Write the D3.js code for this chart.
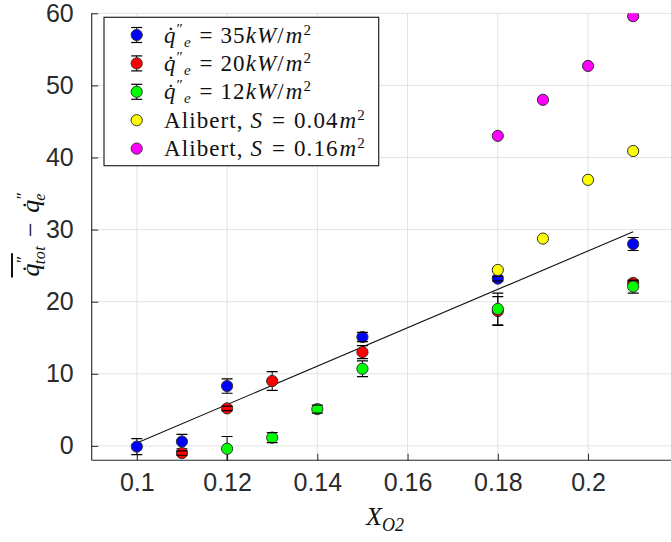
<!DOCTYPE html>
<html><head><meta charset="utf-8">
<script src="https://cdn.jsdelivr.net/npm/d3@7"></script>
<style>
html,body{margin:0;padding:0;background:#fff;}
svg{display:block;}
text{white-space:pre;}
</style></head>
<body>
<svg id="chart" width="671" height="542"></svg>
<script>
// ---- data ----
const xTicks = [0.1, 0.12, 0.14, 0.16, 0.18, 0.2];
const xTickLabels = ["0.1", "0.12", "0.14", "0.16", "0.18", "0.2"];
const yTicks = [0, 10, 20, 30, 40, 50, 60];
const yTickLabels = ["0", "10", "20", "30", "40", "50", "60"];

const x35 = [0.10, 0.11, 0.12, 0.15, 0.18, 0.21];
const y35 = [-0.1, 0.6, 8.3, 15.1, 23.2, 28.0];
const e35 = [1.1, 1.0, 1.0, 0.65, 0.3, 0.9];

const x20 = [0.11, 0.12, 0.13, 0.15, 0.18, 0.21];
const y20 = [-1.0, 5.2, 9.0, 13.0, 18.7, 22.6];
const e20 = [0.3, 0.32, 1.3, 0.9, 2.0, 0.3];

const x12 = [0.12, 0.13, 0.14, 0.15, 0.18, 0.21];
const y12 = [-0.4, 1.15, 5.1, 10.7, 19.0, 22.1];
const e12 = [1.7, 0.7, 0.55, 1.1, 2.2, 0.9];

const xA04 = [0.18, 0.19, 0.20, 0.21];
const yA04 = [24.4, 28.75, 36.9, 40.9];

const xA16 = [0.18, 0.19, 0.20, 0.21];
const yA16 = [43.0, 48.0, 52.7, 59.6];

const fitX = [0.10, 0.21];
const fitY = [0.4, 29.7];

const legendValues = ["35", "20", "12"];
const legendAreas = ["0.04", "0.16"];

// ---- layout ----
const svg = d3.select("#chart");
const L = 91.7, R = 678.3, T = 13.3, B = 460.3;
const axisCol = "#262626";
const x = d3.scaleLinear().domain([0.09, 0.22]).range([L, R]);
const y = d3.scaleLinear().domain([-2, 60]).range([B, T]);

svg.append("defs").append("clipPath").attr("id", "clip")
  .append("rect").attr("x", L).attr("y", T).attr("width", R - L).attr("height", B - T);

// grid
const grid = svg.append("g");
grid.selectAll(".gx").data(xTicks.concat([0.22])).join("line")
  .attr("x1", d => x(d)).attr("x2", d => x(d)).attr("y1", T).attr("y2", B)
  .attr("stroke", "#e3e3e3").attr("stroke-width", 1);
grid.selectAll(".gy").data(yTicks).join("line")
  .attr("y1", d => y(d)).attr("y2", d => y(d)).attr("x1", L).attr("x2", R)
  .attr("stroke", "#e3e3e3").attr("stroke-width", 1);

// axes
const xAxis = d3.axisBottom(x).tickValues(xTicks).tickFormat((d, i) => xTickLabels[i])
  .tickSizeInner(-6.5).tickSizeOuter(0).tickPadding(13);
const yAxis = d3.axisLeft(y).tickValues(yTicks).tickFormat((d, i) => yTickLabels[i])
  .tickSizeInner(-6.5).tickSizeOuter(0).tickPadding(18);

const gx = svg.append("g").attr("transform", `translate(0,${B})`).call(xAxis);
const gy = svg.append("g").attr("transform", `translate(${L},0)`).call(yAxis);
[gx, gy].forEach(g => {
  g.select(".domain").attr("stroke", axisCol).attr("stroke-width", 1.1);
  g.selectAll(".tick line").attr("stroke", axisCol).attr("stroke-width", 1);
  g.selectAll(".tick text").attr("fill", "#2b2b2b")
    .attr("font-family", "'Liberation Sans', Arial, sans-serif").attr("font-size", 25);
});
gx.select(".domain").attr("d", `M${L},0H${R}`);
gy.select(".domain").attr("d", `M0,${B}V${T}`);
gx.selectAll(".tick text").attr("dy", "0.71em");

// plot content
const plot = svg.append("g").attr("clip-path", "url(#clip)");
const line = d3.line().x(d => x(d[0])).y(d => y(d[1]));
plot.append("path").datum(fitX.map((v, i) => [v, fitY[i]]))
  .attr("d", line).attr("fill", "none").attr("stroke", "#111").attr("stroke-width", 1.1);

const r = 5.6, capW = 5.5;
function errSeries(xs, ys, es, color) {
  const data = xs.map((v, i) => ({x: v, y: ys[i], e: es[i]}));
  const g = plot.append("g");
  g.selectAll(".v").data(data).join("line")
    .attr("x1", d => x(d.x)).attr("x2", d => x(d.x))
    .attr("y1", d => y(d.y - d.e)).attr("y2", d => y(d.y + d.e))
    .attr("stroke", "#000").attr("stroke-width", 1);
  g.selectAll(".m").data(data).join("circle")
    .attr("cx", d => x(d.x)).attr("cy", d => y(d.y)).attr("r", r)
    .attr("fill", color).attr("stroke", "#333").attr("stroke-width", 1);
  [-1, 1].forEach(s => {
    g.selectAll(".c" + s).data(data).join("line")
      .attr("x1", d => x(d.x) - capW).attr("x2", d => x(d.x) + capW)
      .attr("y1", d => y(d.y + s * d.e)).attr("y2", d => y(d.y + s * d.e))
      .attr("stroke", "#000").attr("stroke-width", 1.2);
  });
}
function ptSeries(xs, ys, color) {
  plot.append("g").selectAll("circle").data(xs.map((v, i) => [v, ys[i]])).join("circle")
    .attr("cx", d => x(d[0])).attr("cy", d => y(d[1])).attr("r", r)
    .attr("fill", color).attr("stroke", "#333").attr("stroke-width", 1);
}
errSeries(x35, y35, e35, "#0000ff");
errSeries(x20, y20, e20, "#ff0000");
errSeries(x12, y12, e12, "#00ff00");
ptSeries(xA04, yA04, "#ffff00");
ptSeries(xA16, yA16, "#ff00ff");

// ---- math text helper ----
const serif = "'Liberation Serif', 'Times New Roman', serif";
function addSpan(t, txt, o = {}) {
  const s = t.append("tspan").text(txt);
  if (o.it) s.attr("font-style", "italic");
  if (o.fs) s.attr("font-size", o.fs);
  if (o.dx !== undefined) s.attr("dx", o.dx);
  if (o.dy !== undefined) s.attr("dy", o.dy);
  return s;
}

// legend
const lg = svg.append("g");
lg.append("rect").attr("x", 104).attr("y", 17.3).attr("width", 274.7).attr("height", 148.4)
  .attr("fill", "#fff").attr("stroke", axisCol).attr("stroke-width", 1.2);
const rowY = i => 35 + i * 28.4;
const legColors = ["#0000ff", "#ff0000", "#00ff00", "#ffff00", "#ff00ff"];
legColors.forEach((c, i) => {
  const cy = rowY(i), cx = 136.7;
  if (i < 3) {
    lg.append("line").attr("x1", cx).attr("x2", cx).attr("y1", cy - 7.5).attr("y2", cy + 7.5)
      .attr("stroke", "#000");
  }
  lg.append("circle").attr("cx", cx).attr("cy", cy).attr("r", r)
    .attr("fill", c).attr("stroke", "#333").attr("stroke-width", 1);
  if (i < 3) {
    [-7.5, 7.5].forEach(o => lg.append("line").attr("x1", cx - capW).attr("x2", cx + capW)
      .attr("y1", cy + o).attr("y2", cy + o).attr("stroke", "#000").attr("stroke-width", 1.2));
  }
  const t = lg.append("text").attr("x", 164).attr("y", cy + 7.5)
    .attr("font-family", serif).attr("font-size", 23).attr("fill", "#111")
    .attr("letter-spacing", 1.1);
  if (i < 3) {
    addSpan(t, "q\u0307", {it: true});
    addSpan(t, "\u2033", {fs: 15, dy: -9, dx: 0});
    addSpan(t, "e", {it: true, fs: 15, dx: 0, dy: 13});
    addSpan(t, " = ", {dy: -4, dx: 1});
    addSpan(t, legendValues[i], {dx: 0});
    addSpan(t, "kW", {it: true});
    addSpan(t, "/");
    addSpan(t, "m", {it: true, dx: 1});
    addSpan(t, "2", {fs: 15, dy: -8});
  } else {
    addSpan(t, "Alibert, ");
    addSpan(t, "S", {it: true});
    addSpan(t, " = ", {dx: 2});
    addSpan(t, legendAreas[i - 3], {dx: 1});
    addSpan(t, "m", {it: true, dx: 1});
    addSpan(t, "2", {fs: 15, dy: -8});
  }
});

// x label
const xl = svg.append("text").attr("x", (L + R) / 2).attr("y", 525).attr("text-anchor", "middle")
  .attr("font-family", serif).attr("font-size", 26).attr("fill", "#111");
addSpan(xl, "X", {it: true});
addSpan(xl, "O2", {it: true, fs: 18, dy: 6});

// y label
const ylg = svg.append("g").attr("transform", "translate(39,234) rotate(-90)");
const yl = ylg.append("text").attr("x", 0).attr("y", 0).attr("text-anchor", "middle")
  .attr("font-family", serif).attr("font-size", 26).attr("fill", "#111")
  .attr("letter-spacing", 0.5);
addSpan(yl, "q\u0307", {it: true});
addSpan(yl, "\u2033", {fs: 17, dy: -11, dx: 0});
addSpan(yl, "tot", {it: true, fs: 16, dx: -9, dy: 17});
addSpan(yl, " \u2212 ", {dy: -6, dx: 2});
addSpan(yl, "q\u0307", {it: true, dx: 2});
addSpan(yl, "\u2033", {fs: 17, dy: -11, dx: 0});
addSpan(yl, "e", {it: true, fs: 16, dx: -9, dy: 17});
// overline over the first q-dot-double-prime
const node = yl.node();
const s0 = node.getStartPositionOfChar(0).x;
const s1 = node.getEndPositionOfChar(2).x;
ylg.append("line").attr("x1", s0 - 1).attr("x2", s1 + 2).attr("y1", -27).attr("y2", -27)
  .attr("stroke", "#111").attr("stroke-width", 2);
</script>
</body></html>
